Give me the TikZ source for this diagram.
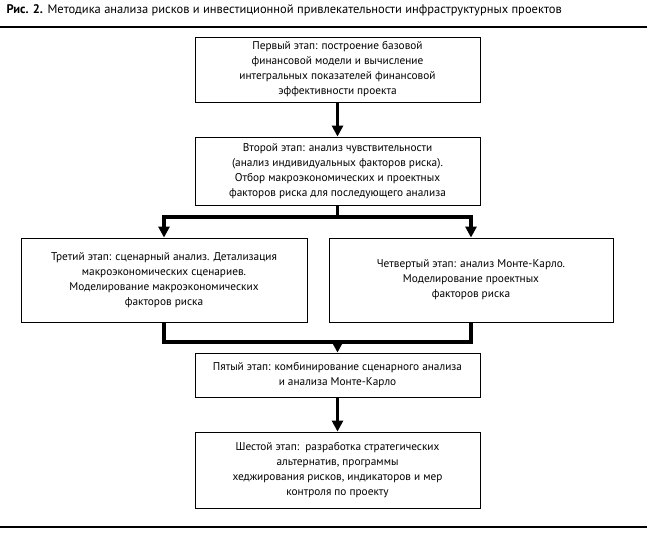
\documentclass[tikz,border=0pt]{standalone}
\usepackage{fontspec}
\setmainfont{PT Sans}
\usepackage{tikz}
\usetikzlibrary{arrows.meta}
\usetikzlibrary{positioning}
\tikzstyle{stage} = [rectangle, minimum width=285pt, inner sep=0pt, align=center, draw=black, line width=0.9pt, font=\fontsize{11.3}{15}\selectfont]
\tikzstyle{flow} = [line width=3.5pt, -{Triangle[width=11pt,length=11pt]}]
\tikzstyle{bar} = [line width=3.5pt]

\begin{document}
\begin{tikzpicture}[x=1pt, y=-1pt, node distance=35pt]
\useasboundingbox (0,0) rectangle (647,536);

\node (title) [anchor=west, font=\fontsize{12.5}{14}\selectfont] at (3,10) {\textbf{Рис. 2.} Методика анализа рисков и инвестиционной привлекательности инфраструктурных проектов};
\draw [line width=1.2pt] (0,27) -- (647,27);
\draw [line width=1.2pt] (0,527) -- (647,527);

\node (st1) [stage, minimum height=65pt] at (337.5,69.5) {Первый этап: построение базовой\\финансовой модели и вычисление\\интегральных показателей финансовой\\эффективности проекта};
\node (st2) [stage, minimum height=68pt] at (337.5,171) {Второй этап: анализ чувствительности\\(анализ индивидуальных факторов риска).\\Отбор макроэкономических и проектных\\факторов риска для последующего анализа};
\node (st3) [stage, minimum width=286pt, minimum height=84pt] at (164,280) {Третий этап: сценарный анализ. Детализация\\макроэкономических сценариев.\\Моделирование макроэкономических\\факторов риска};
\node (st4) [stage, minimum width=284pt, minimum height=84pt] at (471,280) {Четвертый этап: анализ Монте-Карло.\\Моделирование проектных\\факторов риска};
\node (st5) [stage, minimum height=44pt] at (337.5,375) {Пятый этап: комбинирование сценарного анализа\\и анализа Монте-Карло};
\node (st6) [stage, minimum height=76pt] at (337.5,470) {Шестой этап:\ \ разработка стратегических\\альтернатив, программы\\хеджирования рисков, индикаторов и мер\\контроля по проекту};

\coordinate (split) at (337.5,217);
\coordinate (merge) at (337.5,342);

\draw [flow] (st1) -- (st2);
\draw [bar] (st2) -- (split);
\draw [flow] (split) -| (st3);
\draw [flow] (split) -| (st4);
\draw [bar] (st3) |- (merge);
\draw [bar] (st4) |- (merge);
\draw [flow] (merge) -- (st5);
\draw [flow] (st5) -- (st6);
\end{tikzpicture}
\end{document}
